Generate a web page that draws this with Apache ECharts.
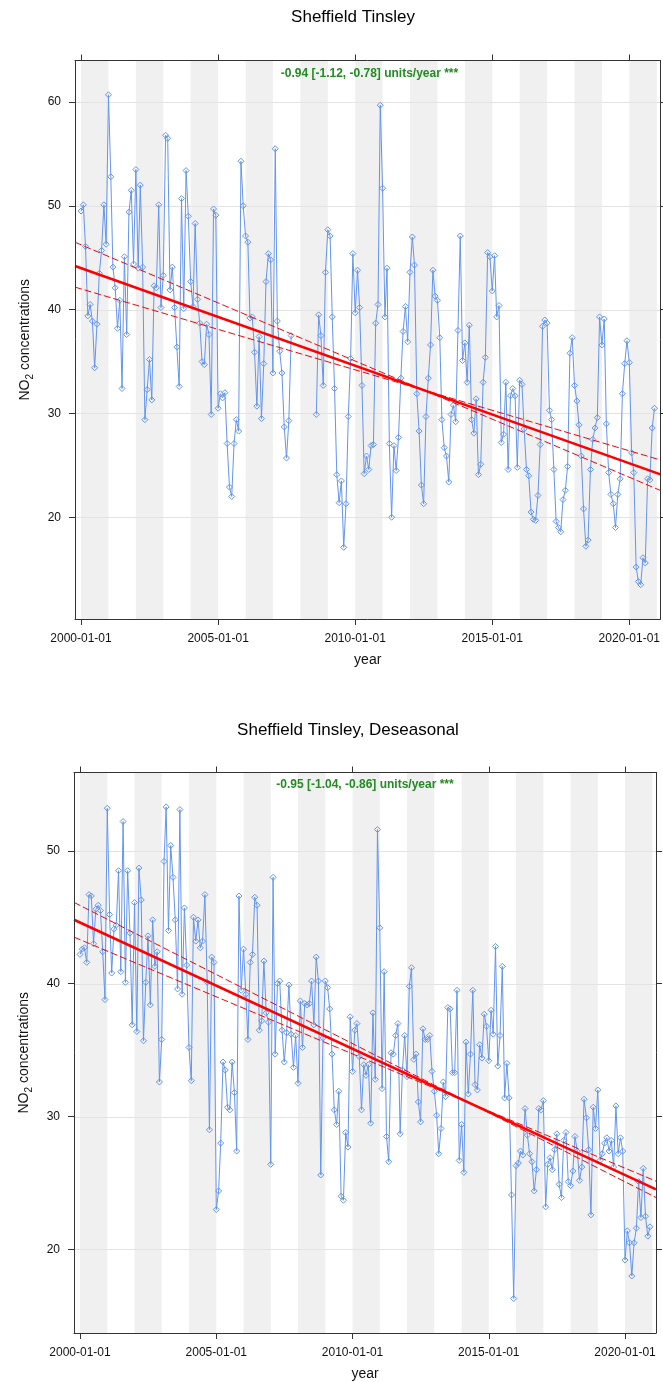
<!DOCTYPE html>
<html>
<head>
<meta charset="utf-8">
<script src="https://cdn.jsdelivr.net/npm/echarts@6/dist/echarts.min.js"></script>
<style>
  html, body { margin: 0; padding: 0; background: #ffffff; }
  #chart { width: 663px; height: 1382px; }
</style>
</head>
<body>
<div id="chart"></div>
<script>
// Monthly mean NO2 at Sheffield Tinsley, one value per month from January 2000 (null = no data)
const START_YEAR = 2000;

const rawMonthly = [
  49.5, 50.1, 46.1, 39.4, 40.5, 38.9, 34.4, 38.6, 43.5, 45.7, 50.1, 46.3,
  60.7, 52.8, 44.1, 42.1, 38.2, 40.9, 32.4, 45.1, 37.6, 49.4, 51.5, 44.4,
  53.5, 44.0, 52.0, 44.1, 29.4, 32.3, 35.2, 31.3, 42.3, 42.1, 50.1, 40.2,
  43.3, 56.8, 56.5, 41.9, 44.1, 40.2, 36.4, 32.6, 50.7, 40.1, 53.4, 49.0,
  42.7, 40.3, 48.3, 41.0, 38.7, 35.0, 34.7, 38.6, 37.6, 29.9, 49.7, 49.1,
  30.5, 31.9, 31.5, 32.0, 27.1, 22.9, 22.0, 27.1, 29.4, 28.3, 54.3, 50.0,
  47.1, 46.5, 39.2, 39.3, 35.9, 30.7, 37.4, 29.5, 34.8, 42.7, 45.4, 44.8,
  33.9, 55.5, 38.9, 36.0, 33.9, 28.7, 25.7, 29.3, 37.5, null, null, null,
  null, null, null, null, null, null, null, 29.9, 39.5, 37.5, 32.7, 43.6,
  47.7, 47.1, 39.3, 32.4, 24.1, 21.4, 23.5, 17.1, 21.3, 29.7, 35.3, 45.4,
  39.7, 43.8, 40.2, 32.7, 24.2, 25.9, 24.6, 26.9, 27.0, 38.7, 40.5, 59.7,
  51.7, 39.3, 44.0, 27.1, 20.0, 26.9, 24.5, 27.7, 33.4, 37.9, 40.3, 36.9,
  43.6, 47.0, 44.3, 31.9, 28.3, 23.1, 21.3, 29.7, 33.4, 36.6, 43.8, 41.3,
  40.9, 37.3, 29.4, 26.7, 25.9, 23.4, 29.9, 30.8, 29.2, 38.0, 47.1, 35.1,
  36.8, 33.0, 38.5, 29.4, 28.1, 31.4, 24.1, 25.1, 33.0, 35.4, 45.5, 45.1,
  41.8, 45.2, 39.3, 40.4, 27.2, 28.0, 33.0, 24.6, 31.7, 32.4, 31.7, 24.8,
  33.2, 32.8, 28.5, 24.6, 24.0, 20.5, 19.8, 19.7, 22.1, 27.0, 38.4, 39.0,
  38.7, 30.3, 29.4, 24.6, 19.6, 19.0, 18.6, 21.7, 22.6, 24.9, 35.8, 37.3,
  32.7, 31.2, 28.9, 25.9, 20.8, 17.2, 17.8, 24.6, 27.5, 28.6, 29.6, 39.3,
  36.6, 39.1, 29.0, 24.3, 22.2, 21.3, 19.0, 22.2, 23.7, 31.9, 34.8, 37.0,
  34.9, 26.2, 24.3, 15.2, 13.8, 13.5, 16.1, 15.6, 23.7, 23.6, 28.6, 30.5
];

// Same site with the seasonal cycle removed
const deseasonMonthly = [
  42.2, 42.6, 42.7, 41.6, 46.7, 46.6, 43.0, 45.6, 45.9, 45.5, 42.4, 38.8,
  53.2, 45.2, 40.8, 44.1, 44.4, 48.5, 40.9, 52.2, 40.1, 48.5, 43.8, 36.9,
  46.1, 36.4, 48.7, 46.3, 35.7, 40.1, 43.6, 38.4, 44.8, 41.3, 42.4, 32.6,
  35.8, 49.2, 53.3, 44.0, 50.4, 48.0, 44.8, 39.6, 53.1, 39.2, 45.7, 41.4,
  35.2, 32.7, 45.0, 43.2, 44.8, 42.7, 43.2, 46.7, 40.1, 29.0, 42.0, 41.6,
  23.0, 24.4, 28.0, 34.1, 33.5, 30.7, 30.5, 34.1, 31.8, 27.4, 46.6, 39.5,
  42.6, 39.2, 35.8, 41.6, 42.2, 46.5, 45.9, 36.5, 37.2, 41.7, 37.8, 37.1,
  26.4, 48.0, 34.7, 40.0, 40.2, 36.5, 34.1, 36.3, 39.9, 36.2, 33.7, 36.1,
  32.5, 38.7, 35.2, 38.5, 38.4, 38.5, 40.2, 36.9, 42.0, 40.2, 25.6, 35.9,
  40.2, 39.7, 38.1, 34.7, 30.5, 29.4, 31.9, 24.0, 23.7, 28.8, 27.7, 37.5,
  33.4, 36.5, 37.0, 34.5, 30.5, 33.9, 33.1, 33.9, 29.5, 37.8, 32.8, 51.6,
  44.2, 32.1, 40.9, 28.5, 26.6, 34.8, 34.7, 36.1, 37.0, 28.7, 33.5, 36.1,
  33.0, 39.8, 41.2, 34.3, 34.7, 31.1, 29.6, 36.6, 35.8, 35.8, 36.1, 33.4,
  31.9, 30.1, 27.2, 29.1, 32.6, 31.5, 38.2, 38.1, 33.3, 33.3, 39.5, 26.7,
  29.4, 25.8, 35.6, 31.7, 34.7, 39.5, 32.4, 32.0, 35.4, 34.4, 37.7, 36.8,
  34.2, 38.0, 36.2, 42.8, 33.8, 36.1, 41.3, 31.4, 34.0, 31.4, 24.1, 16.3,
  26.3, 26.5, 27.4, 27.1, 30.6, 28.6, 27.2, 26.6, 24.4, 26.0, 30.6, 30.5,
  31.2, 23.2, 26.4, 26.9, 26.0, 27.5, 28.7, 24.9, 23.9, 28.2, 28.8, 25.1,
  24.8, 25.9, 28.5, 27.4, 25.2, 26.2, 31.3, 29.9, 27.5, 22.6, 30.7, 29.1,
  32.0, 26.7, 27.2, 28.0, 28.4, 27.4, 28.2, 26.2, 30.8, 27.2, 28.4, 27.4,
  19.2, 21.4, 20.5, 18.0, 20.5, 21.6, 25.1, 22.4, 26.1, 22.5, 21.0, 21.7
];

// Tick positions
const xTickYears = [2000, 2005, 2010, 2015, 2020];
const yTicksRaw = [20, 30, 40, 50, 60];
const yTicksDeseason = [20, 30, 40, 50];

// Theil-Sen slope estimates (units/year) with their 95% intervals
const slopeRaw = { est: -0.94, lo: -1.12, hi: -0.78 };
const slopeDeseason = { est: -0.95, lo: -1.04, hi: -0.86 };

// Fitted level at the start of 2000 and the year the interval lines turn about
const trendRaw = { level2000: 44.0, pivot: 2012.5 };
const trendDeseason = { level2000: 44.6, pivot: 2014.3 };

// ---------------------------------------------------------------------------
const FONT = 'Liberation Sans, Arial, Helvetica, sans-serif';
const AXIS = '#333333';
const TEXT = '#111111';
const BAND = '#f0f0f0';
const GRIDLINE = '#e3e3e3';
const DATA_COL = '#6495ED';
const TREND_COL = '#ff0000';
const NOTE_COL = '#228B22';
const DAY = 86400000;

const monthTime = i => Date.UTC(START_YEAR, i, 1);
function decYear(t) {
  const y = new Date(t).getUTCFullYear();
  const a = Date.UTC(y, 0, 1), b = Date.UTC(y + 1, 0, 1);
  return y + (t - a) / (b - a);
}
const fmt = v => v.toFixed(2);

const panels = [
  {
    title: 'Sheffield Tinsley', values: rawMonthly, slope: slopeRaw, trend: trendRaw, yTicks: yTicksRaw,
    grid: { left: 75, top: 60.5, width: 589, height: 558.5 }, titleX: 353, titleY: 17, noteY: 73.5
  },
  {
    title: 'Sheffield Tinsley, Deseasonal', values: deseasonMonthly, slope: slopeDeseason, trend: trendDeseason, yTicks: yTicksDeseason,
    grid: { left: 74, top: 772.5, width: 582, height: 562 }, titleX: 348, titleY: 730, noteY: 785
  }
];

const option = {
  animation: false,
  backgroundColor: '#ffffff',
  textStyle: { fontFamily: FONT },
  title: [], grid: [], xAxis: [], yAxis: [], series: []
};

panels.forEach((p, gi) => {
  const n = p.values.length;
  const xPad = 80 * DAY;
  const xmin = monthTime(0) - xPad;
  const xmax = monthTime(n - 1) + xPad;
  const present = p.values.filter(v => v !== null);
  const lo = Math.min(...present), hi = Math.max(...present);
  const yPad = (hi - lo) * 0.07;
  const ymin = lo - yPad, ymax = hi + yPad;
  const xi = gi * 2, yi = gi * 2;

  option.grid.push({ left: p.grid.left, top: p.grid.top, width: p.grid.width, height: p.grid.height, containLabel: false });

  option.title.push({
    text: p.title, left: p.titleX, top: p.titleY, padding: 0,
    textAlign: 'center', textVerticalAlign: 'middle',
    textStyle: { fontSize: 17, fontWeight: 'normal', color: '#000', fontFamily: FONT }
  });
  option.title.push({
    text: `${fmt(p.slope.est)} [${fmt(p.slope.lo)}, ${fmt(p.slope.hi)}] units/year ***`,
    left: p.grid.left + p.grid.width / 2, top: p.noteY, padding: 0,
    textAlign: 'center', textVerticalAlign: 'middle',
    textStyle: { fontSize: 12, fontWeight: 'bold', color: NOTE_COL, fontFamily: FONT }
  });

  const xTicks = xTickYears.map(y => Date.UTC(y, 0, 1));
  const xCommon = {
    type: 'value', gridIndex: gi, min: xmin, max: xmax, z: 6,
    splitLine: { show: false },
    axisLine: { show: true, onZero: false, lineStyle: { color: AXIS, width: 1 } },
    axisTick: { show: true, customValues: xTicks, length: 6, lineStyle: { color: AXIS, width: 1 } }
  };
  option.xAxis.push(Object.assign({}, xCommon, {
    position: 'bottom',
    axisLabel: {
      customValues: xTicks, margin: 14, fontSize: 12, color: TEXT,
      formatter: v => new Date(v).toISOString().slice(0, 10)
    },
    name: 'year', nameLocation: 'middle', nameGap: 34,
    nameTextStyle: { fontSize: 14, color: TEXT }
  }));
  option.xAxis.push(Object.assign({}, xCommon, { position: 'top', axisLabel: { show: false } }));

  const yCommon = {
    type: 'value', gridIndex: gi, min: ymin, max: ymax, z: 6,
    splitLine: { show: false },
    axisLine: { show: true, onZero: false, lineStyle: { color: AXIS, width: 1 } },
    axisTick: { show: true, customValues: p.yTicks, length: 6, lineStyle: { color: AXIS, width: 1 } }
  };
  option.yAxis.push(Object.assign({}, yCommon, {
    position: 'left',
    axisLabel: { customValues: p.yTicks, margin: 14, fontSize: 12, color: TEXT },
    name: '{n|NO}{s|2}{n| concentrations}', nameLocation: 'middle', nameGap: 40, nameRotate: 90,
    nameTextStyle: {
      color: TEXT,
      rich: {
        n: { fontSize: 14, lineHeight: 20, verticalAlign: 'middle', color: TEXT, fontFamily: FONT },
        s: { fontSize: 10, lineHeight: 10, verticalAlign: 'bottom', color: TEXT, fontFamily: FONT }
      }
    }
  }));
  option.yAxis.push(Object.assign({}, yCommon, { position: 'right', axisLabel: { show: false } }));

  // alternate-year shading and horizontal reference lines
  const backdrop = [];
  const y0 = new Date(xmin).getUTCFullYear(), y1 = new Date(xmax).getUTCFullYear();
  for (let y = y0; y <= y1; y++) {
    if (y % 2 === 0) backdrop.push([Date.UTC(y, 0, 1), ymin, 0, Date.UTC(y + 1, 0, 1)]);
  }
  p.yTicks.forEach(v => backdrop.push([xmin, v, 1, xmax]));

  option.series.push({
    type: 'custom', xAxisIndex: xi, yAxisIndex: yi, z: 1, silent: true, clip: true,
    encode: { x: 0, y: 1 },
    data: backdrop,
    renderItem(params, api) {
      const kind = api.value(2);
      if (kind === 0) {
        const a = api.coord([api.value(0), ymax]);
        const b = api.coord([api.value(3), ymin]);
        return { type: 'rect', shape: { x: a[0], y: a[1], width: b[0] - a[0], height: b[1] - a[1] }, style: { fill: BAND }, z2: 0 };
      }
      const a = api.coord([api.value(0), api.value(1)]);
      const b = api.coord([api.value(3), api.value(1)]);
      const yy = Math.round(a[1]) + 0.5;
      return { type: 'line', shape: { x1: a[0], y1: yy, x2: b[0], y2: yy }, style: { stroke: GRIDLINE, lineWidth: 1 }, z2: 5 };
    }
  });

  // monthly concentrations
  option.series.push({
    type: 'line', xAxisIndex: xi, yAxisIndex: yi, z: 3,
    data: p.values.map((v, i) => [monthTime(i), v === null ? '-' : v]),
    connectNulls: false,
    symbol: 'diamond', symbolSize: 6, showSymbol: true, showAllSymbol: true,
    lineStyle: { color: DATA_COL, width: 1 },
    itemStyle: { color: 'rgba(255,255,255,0)', borderColor: DATA_COL, borderWidth: 1 },
    emphasis: { disabled: true }
  });

  // Theil-Sen trend with its interval lines
  const tr = p.trend, sl = p.slope;
  const mainAt = t => tr.level2000 + sl.est * (decYear(t) - 2000);
  const pivotLevel = tr.level2000 + sl.est * (tr.pivot - 2000);
  const ciAt = s => t => pivotLevel + s * (decYear(t) - tr.pivot);
  const line = (f, style) => ({
    type: 'line', xAxisIndex: xi, yAxisIndex: yi, z: 4, silent: true,
    data: [[xmin, f(xmin)], [xmax, f(xmax)]], symbol: 'none', lineStyle: style,
    emphasis: { disabled: true }
  });
  const dashed = { color: TREND_COL, width: 1, type: [7, 3] };
  option.series.push(line(ciAt(sl.lo), dashed));
  option.series.push(line(ciAt(sl.hi), dashed));
  option.series.push(line(mainAt, { color: TREND_COL, width: 2.5 }));
});

const chart = echarts.init(document.getElementById('chart'), null, { renderer: 'canvas', width: 663, height: 1382 });
chart.setOption(option);
</script>
</body>
</html>
